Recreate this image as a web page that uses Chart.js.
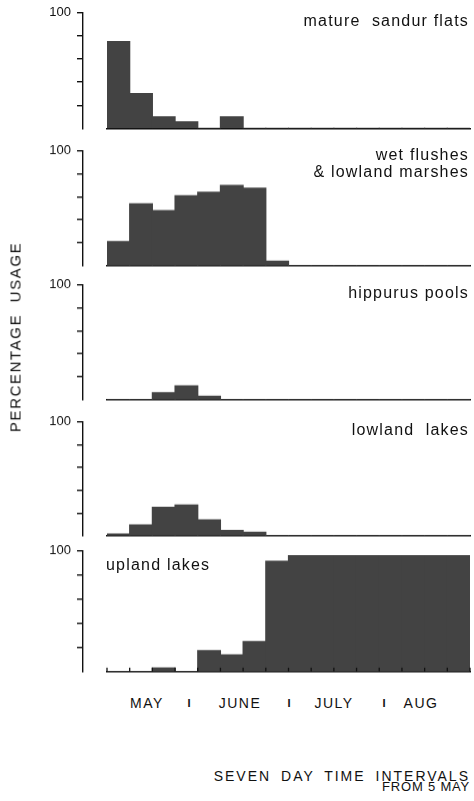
<!DOCTYPE html>
<html>
<head>
<meta charset="utf-8">
<script src="https://cdn.jsdelivr.net/npm/chart.js@4.4.1/dist/chart.umd.min.js"></script>
<style>
  html, body { margin: 0; padding: 0; background: #fff; }
  body {
    width: 474px; height: 801px; position: relative; overflow: hidden;
    font-family: "Liberation Sans", Arial, sans-serif; color: #111;
  }
  .panel { position: absolute; left: 0; width: 474px; }
  .lbl { position: absolute; font-size: 16px; letter-spacing: 1.2px; white-space: pre; line-height: 17px; }
  .right { right: 5px; text-align: right; }
  #ylab {
    position: absolute; left: 15px; top: 337px; font-size: 15px; letter-spacing: 1.6px;
    white-space: pre; transform: translate(-50%, -50%) rotate(-90deg);
  }
  .mon { position: absolute; top: 695px; font-size: 14px; letter-spacing: 1.5px; transform: translateX(-50%); }
  .sep { position: absolute; top: 697px; font-size: 11px; font-weight: bold; transform: translateX(-50%); }
  .cap { position: absolute; right: 4px; text-align: right; white-space: pre; line-height: 12px; }
</style>
</head>
<body>

<div class="panel" id="p0"><canvas id="c0"></canvas></div>
<div class="panel" id="p1"><canvas id="c1"></canvas></div>
<div class="panel" id="p2"><canvas id="c2"></canvas></div>
<div class="panel" id="p3"><canvas id="c3"></canvas></div>
<div class="panel" id="p4"><canvas id="c4"></canvas></div>

<div class="lbl right" style="top:12px">mature  sandur flats</div>
<div class="lbl right" style="top:146px">wet flushes<br>&amp; lowland marshes</div>
<div class="lbl right" style="top:284px">hippurus pools</div>
<div class="lbl right" style="top:421px">lowland  lakes</div>
<div class="lbl" style="left:106px; top:556px">upland lakes</div>

<div id="ylab">PERCENTAGE  USAGE</div>

<div class="mon" style="left:147px">MAY</div>
<div class="sep" style="left:189px">I</div>
<div class="mon" style="left:240px">JUNE</div>
<div class="sep" style="left:289px">I</div>
<div class="mon" style="left:334px">JULY</div>
<div class="sep" style="left:384px">I</div>
<div class="mon" style="left:421px">AUG</div>

<div class="cap" style="top:770px; font-size:14px; letter-spacing:2px; word-spacing:4px">SEVEN DAY TIME INTERVALS</div>
<div class="cap" style="top:781px; font-size:13px; letter-spacing:0.8px">FROM 5 MAY</div>

<script>
// seven day intervals starting 5 May
const weeks = ["5 May", "12 May", "19 May", "26 May", "2 Jun", "9 Jun", "16 Jun", "23 Jun",
               "30 Jun", "7 Jul", "14 Jul", "21 Jul", "28 Jul", "4 Aug", "11 Aug", "18 Aug"];

// percentage usage per habitat
const sandurFlats  = [75, 30, 10, 5.5, 0, 10, 0, 0, 0, 0, 0, 0, 0, 0, 0, 0];
const wetFlushes   = [21, 54, 48, 61, 64, 70, 67.5, 4, 0, 0, 0, 0, 0, 0, 0, 0];
const hippurusPools = [0, 0, 6, 12, 3, 0, 0, 0, 0, 0, 0, 0, 0, 0, 0, 0];
const lowlandLakes = [1.5, 9.5, 25, 27, 14, 4.5, 3, 0, 0, 0, 0, 0, 0, 0, 0, 0];
const uplandLakes  = [0, 0, 3, 0, 17.5, 14, 25, 91.5, 96, 96, 96, 96, 96, 96, 96, 96];

const yTicks = [0, 20, 40, 60, 80, 100];

const series = [sandurFlats, wetFlushes, hippurusPools, lowlandLakes, uplandLakes];

// page layout: y of the 100 line and of the base line for each panel
const panelTop    = [13, 151, 285, 422, 551];
const panelBottom = [128.5, 265, 399, 535, 671];
const padTop = 10, axisH = 6;

const ink = "#111";
const fill = "#434343";

// small upward tick marks at each interval boundary (bottom panel only)
const upTicks = {
    id: "upTicks",
    afterDraw(chart) {
        if (!chart.options.plugins.upTicks.show) return;
        const xs = chart.scales.x;
        const ctx = chart.ctx;
        const y = chart.chartArea.bottom;
        ctx.save();
        ctx.strokeStyle = ink;
        ctx.lineWidth = 1.3;
        for (let i = 0; i <= weeks.length; i++) {
            const x = xs.getPixelForValue(i - 0.5);
            ctx.beginPath();
            ctx.moveTo(x, y);
            ctx.lineTo(x, y - 4);
            ctx.stroke();
        }
        ctx.restore();
    }
};

series.forEach((values, i) => {
    const box = document.getElementById("p" + i);
    const plotH = panelBottom[i] - panelTop[i];
    box.style.top = (panelTop[i] - padTop) + "px";
    box.style.height = (plotH + padTop + axisH) + "px";

    const chart = new Chart(document.getElementById("c" + i), {
        type: "bar",
        data: {
            labels: weeks,
            datasets: [{
                data: values,
                yAxisID: "y",
                backgroundColor: fill,
                borderWidth: 0,
                inflateAmount: 0.6,
                barPercentage: 1,
                categoryPercentage: 1
            }]
        },
        options: {
            responsive: true,
            maintainAspectRatio: false,
            animation: false,
            layout: { padding: { top: padTop, right: 4, bottom: 0, left: 0 } },
            plugins: {
                legend: { display: false },
                tooltip: { enabled: false },
                upTicks: { show: i === series.length - 1 }
            },
            scales: {
                x: {
                    ticks: { display: false },
                    grid: { display: false },
                    border: { display: true, color: ink, width: 1.5 },
                    afterFit(s) { s.height = axisH; }
                },
                gap: {
                    position: "left",
                    weight: 0,
                    ticks: { display: false },
                    grid: { display: false },
                    border: { display: false },
                    afterFit(s) { s.width = 24; }
                },
                y: {
                    position: "left",
                    weight: 1,
                    min: 0,
                    max: 100,
                    afterBuildTicks(s) { s.ticks = yTicks.map(v => ({ value: v })); },
                    ticks: {
                        callback: v => (v === 100 ? "100" : ""),
                        padding: 6,
                        color: ink,
                        font: { family: "Liberation Sans", size: 13 }
                    },
                    grid: {
                        drawOnChartArea: false,
                        tickLength: 6,
                        lineWidth: 1.4,
                        color: c => (c.tick && c.tick.value === 0 ? "rgba(0,0,0,0)" : ink)
                    },
                    border: { color: ink, width: 1.4 },
                    afterFit(s) { s.width = 83; }
                }
            }
        },
        plugins: [upTicks]
    });

    // shift/stretch the box so the plot area lands on the panel's 100 line and base line
    const ca = chart.chartArea;
    const below = chart.height - ca.bottom;
    box.style.top = (panelTop[i] - ca.top) + "px";
    box.style.height = (ca.top + plotH + below) + "px";
    chart.resize();
});
</script>
</body>
</html>
